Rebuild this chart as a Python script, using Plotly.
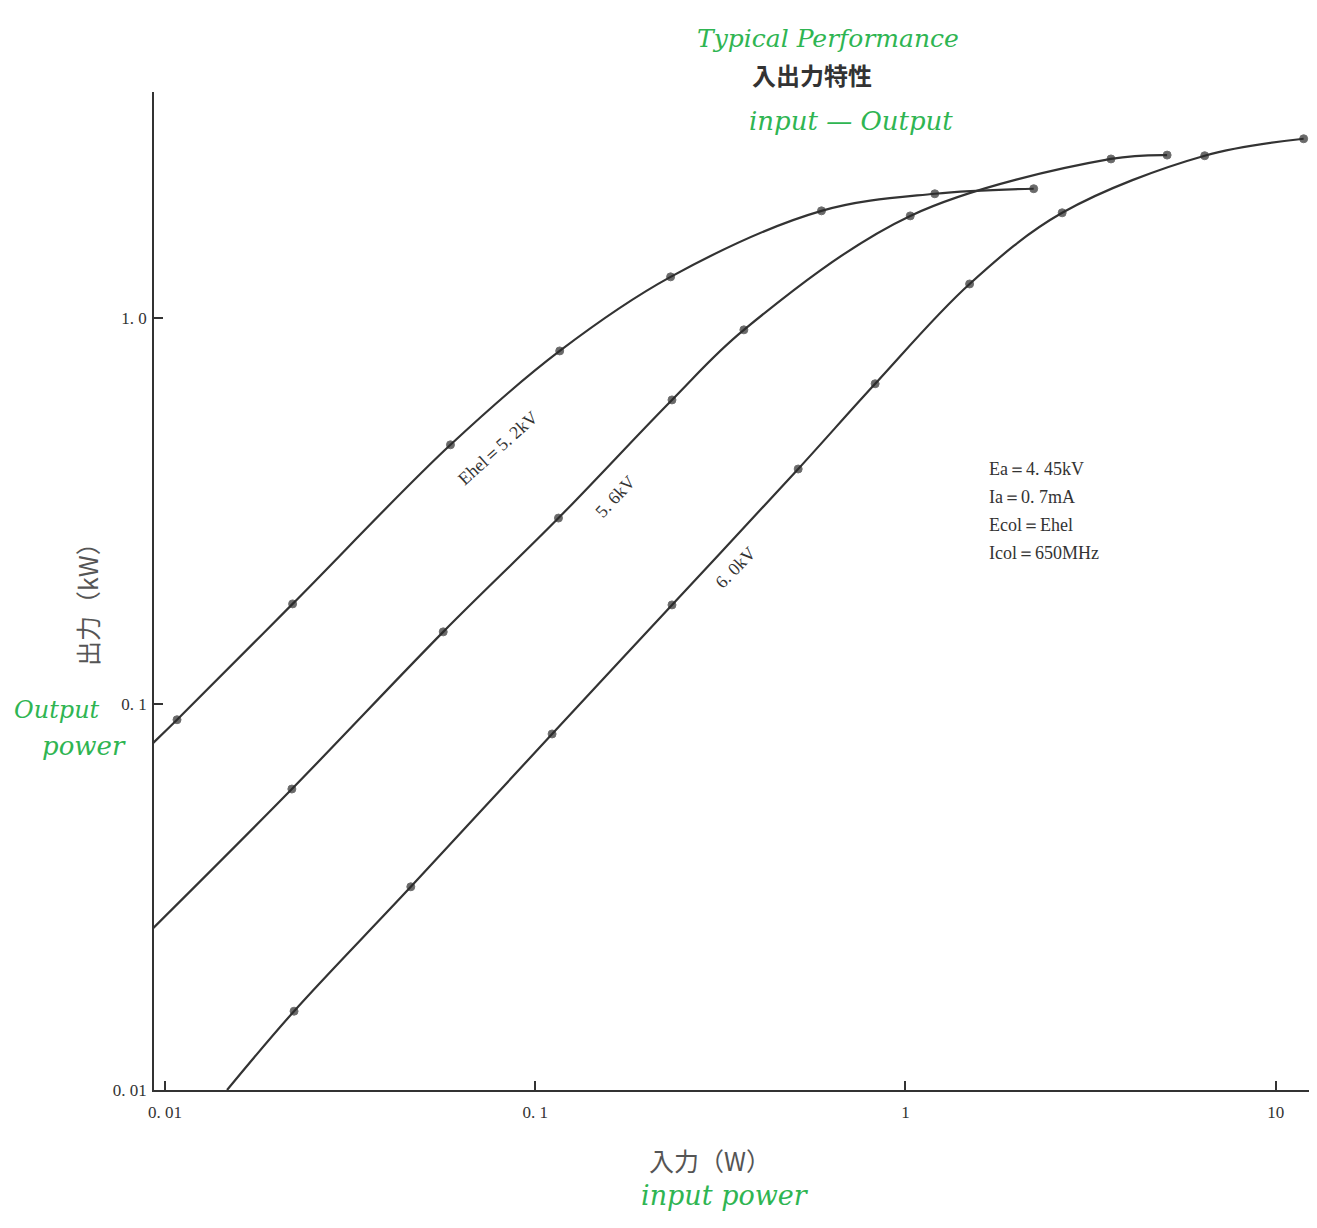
import plotly.graph_objects as go

# ---- data ----
x_52 = [0.0091, 0.01077, 0.0221, 0.0590, 0.1164, 0.232, 0.593, 1.20, 2.22]
y_52 = [0.0778, 0.0910, 0.1816, 0.469, 0.821, 1.277, 1.893, 2.096, 2.16]

x_56 = [0.0093, 0.0220, 0.0564, 0.1155, 0.234, 0.366, 1.03, 3.59, 5.09]
y_56 = [0.0263, 0.0602, 0.1537, 0.303, 0.613, 0.931, 1.837, 2.58, 2.64]

x_60 = [0.0147, 0.0223, 0.0461, 0.111, 0.234, 0.513, 0.828, 1.49, 2.65, 6.43, 11.9]
y_60 = [0.0100, 0.0160, 0.0336, 0.0836, 0.1805, 0.406, 0.675, 1.224, 1.871, 2.63, 2.91]

series_names = ["Ehel＝5. 2kV", "5. 6kV", "6. 0kV"]
x_tickvals = [0.01, 0.1, 1, 10]
x_ticktext = ["0. 01", "0. 1", "1", "10"]
y_tickvals = [0.01, 0.1, 1.0]
y_ticktext = ["0. 01", "0. 1", "1. 0"]
params = ["Ea＝4. 45kV", "Ia＝0. 7mA", "Ecol＝Ehel", "Icol＝650MHz"]

INK = "#333333"
GREEN = "#2fb552"
SERIF = "Liberation Serif, DejaVu Serif, serif"
CJK = "Noto Sans CJK JP, sans-serif"
HAND = "DejaVu Serif"

# plot area in screen pixels (page has an 8px body margin)
PX0, PX1, PY0, PY1 = 154, 1309, 92, 1090


def px(x):
    return (x - PX0) / (PX1 - PX0)


def py(y):
    return (PY1 - y) / (PY1 - PY0)


fig = go.Figure()
for xs, ys, nm in zip([x_52, x_56, x_60], [y_52, y_56, y_60], series_names):
    sizes = [0] + [8] * (len(xs) - 1)
    fig.add_trace(go.Scatter(
        x=xs, y=ys, name=nm, mode="lines+markers",
        line=dict(color=INK, width=2.2, shape="spline", smoothing=1.0),
        marker=dict(color="#2a2a2a", size=sizes),
        showlegend=False, cliponaxis=True,
    ))

fig.update_layout(
    width=1301, height=1212,
    margin=dict(l=PX0 - 8, r=0, t=PY0 - 8, b=1212 - (PY1 - 8)),
    paper_bgcolor="white", plot_bgcolor="white",
    font=dict(family=SERIF, color=INK, size=17),
    xaxis=dict(type="log", range=[-2.03, 1.09], showgrid=False, zeroline=False,
               showline=True, linecolor=INK, linewidth=1.6,
               tickvals=x_tickvals, ticktext=x_ticktext,
               ticks="inside", ticklen=9, tickcolor=INK, tickwidth=1.5,
               ticklabelstandoff=6,
               tickfont=dict(family=SERIF, size=17, color=INK)),
    yaxis=dict(type="log", range=[-2, 0.585], showgrid=False, zeroline=False,
               showline=True, linecolor=INK, linewidth=1.6,
               tickvals=y_tickvals, ticktext=y_ticktext,
               ticks="inside", ticklen=9, tickcolor=INK, tickwidth=1.5,
               ticklabelstandoff=2,
               tickfont=dict(family=SERIF, size=17, color=INK)),
)


def A(text, x, y, size, color, family, angle=0, xanchor="center"):
    return dict(text=text, x=px(x), y=py(y), xref="paper", yref="paper",
                xanchor=xanchor, yanchor="middle", textangle=angle,
                showarrow=False, font=dict(family=family, size=size, color=color))


ann = [
    A("<b>入出力特性</b>", 812, 74, 24, "#333", CJK),
    A("<i>Typical Performance</i>", 828, 38, 25, GREEN, HAND),
    A("<i>input — Output</i>", 851, 121, 26, GREEN, HAND),
    A("<i>Output</i>", 57, 710, 24, GREEN, HAND),
    A("<i>power</i>", 84, 746, 26, GREEN, HAND),
    A("<i>input power</i>", 725, 1195, 27, GREEN, HAND),
    A("出力（kW）", 87, 598, 25, "#555", CJK, angle=-90),
    A("入力（W）", 710, 1160, 25, "#555", CJK),
]
for txt, x, y, ang in zip(series_names, [498, 615, 735], [448, 497, 568], [-42, -47, -46]):
    ann.append(A(txt, x, y, 18, INK, SERIF, angle=ang))
for i, t in enumerate(params):
    ann.append(A(t, 987, 469 + 28 * i, 18, INK, SERIF, xanchor="left"))
fig.update_layout(annotations=ann)

fig.write_html("out.html")
